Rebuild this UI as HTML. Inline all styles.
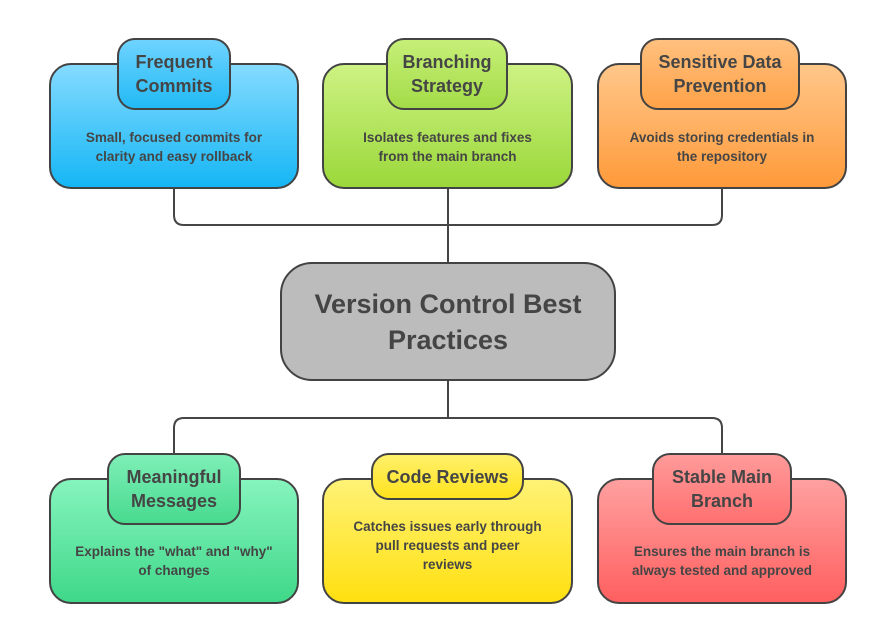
<!DOCTYPE html>
<html><head><meta charset="utf-8"><style>
body{margin:0;width:894px;height:628px;background:#fff;font-family:"Liberation Sans",Arial,sans-serif;position:relative;overflow:hidden}
.b{position:absolute;border:2px solid #434343;border-radius:22px;box-sizing:border-box;color:#454545;font-weight:bold;text-align:center}
.t{display:flex;align-items:center;justify-content:center;font-size:18px;line-height:24px;border-radius:18px}
.d{font-size:13.5px;line-height:19px;display:flex;align-items:flex-end;justify-content:center}
</style></head><body>
<svg width="894" height="628" style="position:absolute;left:0;top:0">
<g fill="none" stroke="#454545" stroke-width="2">
<path d="M174 188V215q0 10 10 10H712q10 0 10-10V188"/>
<path d="M448 188V262"/>
<path d="M448 380V418M174 478V428q0-10 10-10H712q10 0 10 10V478"/>
</g></svg>
<div class="b d" style="left:49px;top:63px;width:250px;height:126px;background:linear-gradient(#85dbff,#15b6f5);padding-bottom:21px">Small, focused commits for<br>clarity and easy rollback</div>
<div class="b t" style="left:117px;top:38px;width:114px;height:72px;background:linear-gradient(#6fd3ff,#22baf5)">Frequent<br>Commits</div>
<div class="b d" style="left:322px;top:63px;width:251px;height:126px;background:linear-gradient(#cdf283,#9bd83a);padding-bottom:21px">Isolates features and fixes<br>from the main branch</div>
<div class="b t" style="left:386px;top:38px;width:122px;height:72px;background:linear-gradient(#c6ef78,#a4dc48)">Branching<br>Strategy</div>
<div class="b d" style="left:597px;top:63px;width:250px;height:126px;background:linear-gradient(#ffc78a,#ff9a3a);padding-bottom:21px">Avoids storing credentials in<br>the repository</div>
<div class="b t" style="left:640px;top:38px;width:160px;height:72px;background:linear-gradient(#ffc07e,#ffa248)">Sensitive Data<br>Prevention</div>
<div class="b" style="left:280px;top:262px;width:336px;height:119px;border-radius:32px;background:#bcbcbc;font-size:27px;line-height:36px;display:flex;align-items:center;justify-content:center">Version Control Best<br>Practices</div>
<div class="b d" style="left:49px;top:478px;width:250px;height:126px;background:linear-gradient(#86f4be,#3fd889);padding-bottom:22px">Explains the "what" and "why"<br>of changes</div>
<div class="b t" style="left:107px;top:453px;width:134px;height:72px;background:linear-gradient(#7eefb7,#48da8f)">Meaningful<br>Messages</div>
<div class="b d" style="left:322px;top:478px;width:251px;height:126px;background:linear-gradient(#fff276,#ffe010);padding-bottom:28px">Catches issues early through<br>pull requests and peer<br>reviews</div>
<div class="b t" style="left:371px;top:453px;width:153px;height:47px;background:linear-gradient(#fff06a,#ffe31e)">Code Reviews</div>
<div class="b d" style="left:597px;top:478px;width:250px;height:126px;background:linear-gradient(#ffa0a0,#ff5f5f);padding-bottom:22px">Ensures the main branch is<br>always tested and approved</div>
<div class="b t" style="left:652px;top:453px;width:140px;height:72px;background:linear-gradient(#ff9a9a,#ff7070)">Stable Main<br>Branch</div>
</body></html>
